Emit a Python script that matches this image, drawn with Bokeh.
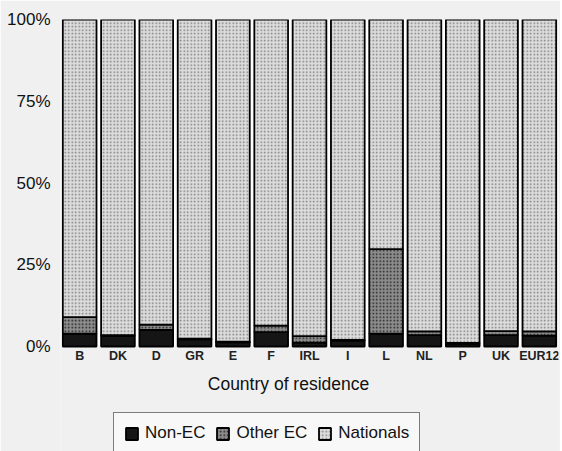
from bokeh.plotting import figure
from bokeh.models import (FactorRange, Range1d, FixedTicker, Legend, LegendItem,
                          ColumnDataSource)
from bokeh.core.properties import value
from bokeh.embed import file_html
from bokeh.resources import INLINE

countries = ["B", "DK", "D", "GR", "E", "F", "IRL", "I", "L", "NL", "P", "UK", "EUR12"]
non_ec = [3.9, 3.2, 5.1, 2.2, 1.3, 4.4, 1.2, 1.8, 3.9, 3.5, 0.8, 3.5, 3.3]
other_ec = [5.1, 0.3, 1.6, 0.2, 0.2, 2.0, 2.0, 0.2, 25.9, 1.1, 0.3, 1.2, 1.3]
nationals = [round(100 - a - b, 1) for a, b in zip(non_ec, other_ec)]
y_ticks = [0, 25, 50, 75, 100]
y_tick_labels = ["0%", "25%", "50%", "75%", "100%"]
series = ["Non-EC", "Other EC", "Nationals"]
x_title = "Country of residence"

src = ColumnDataSource(dict(country=countries, non_ec=non_ec, other_ec=other_ec,
                            nationals=nationals))

FONT = "Liberation Sans"
PX = 100 / 327.0  # data units per pixel on the y scale

p = figure(x_range=FactorRange(*countries, range_padding=0),
           y_range=Range1d(-105 * PX, 100),
           width=560, height=451, output_backend="svg", toolbar_location=None,
           min_border_left=60, min_border_right=2, min_border_top=19,
           min_border_bottom=0)
p.background_fill_color = "#f0f0f0"
p.border_fill_color = "#f0f0f0"
p.outline_line_color = None
p.grid.visible = False
p.xaxis.visible = False

# white paper behind the bars (gaps between bars are white)
p.vbar(x=countries, top=y_ticks[-1], bottom=y_ticks[0], width=1.0,
       fill_color="white", line_color=None)

rs = p.vbar_stack(["non_ec", "other_ec", "nationals"], x="country", source=src, width=0.88,
                  fill_color=["#151515", "#8c8c8c", "#dcdcdc"],
                  line_color="black", line_width=1.8,
                  hatch_pattern=[" ", "dot", "dot"],
                  hatch_color=["#151515", "#1e1e1e", "#7a7a7a"],
                  hatch_scale=[4, 3.5, 3.5], hatch_weight=[1, 1.6, 1.0])

# category labels and axis title under the bars
p.text(x=countries, y=[-9 * PX] * len(countries), text=countries,
       text_font=value(FONT), text_font_size="12.5px", text_font_style="bold",
       text_color="#222222", text_align="center", text_baseline="middle")
p.text(x=["IRL"], y=[-37 * PX], text=[x_title], x_offset=-21,
       text_font=value(FONT), text_font_size="17.5px", text_color="#111111",
       text_align="center", text_baseline="middle")

p.yaxis.ticker = FixedTicker(ticks=y_ticks)
p.yaxis.major_label_overrides = {t: l for t, l in zip(y_ticks, y_tick_labels)}
p.yaxis.axis_line_color = None
p.yaxis.major_tick_line_color = None
p.yaxis.minor_tick_line_color = None
p.yaxis.major_label_standoff = 4
p.yaxis.major_label_text_font = FONT
p.yaxis.major_label_text_font_size = "17px"
p.yaxis.major_label_text_color = "#111111"

legend = Legend(items=[LegendItem(label=s, renderers=[r]) for s, r in zip(series, rs)],
                orientation="horizontal", location=(53, -3),
                label_text_font=FONT, label_text_font_size="17px",
                label_text_color="#111111", glyph_width=15, glyph_height=15,
                label_standoff=6, spacing=10, padding=10, margin=0,
                border_line_color="black", border_line_width=1.5,
                background_fill_color="#f8f8f8", background_fill_alpha=1)
p.add_layout(legend)

open("out.html", "w").write(file_html(p, INLINE))
